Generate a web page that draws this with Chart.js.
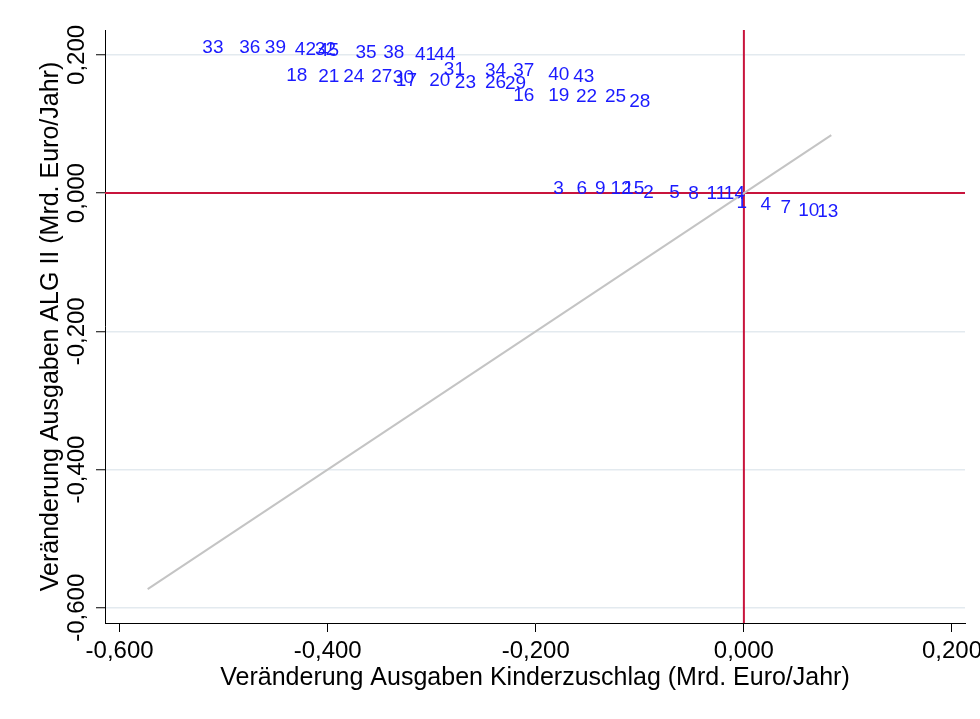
<!DOCTYPE html>
<html>
<head>
<meta charset="utf-8">
<script src="https://cdn.jsdelivr.net/npm/chart.js@4/dist/chart.umd.min.js"></script>
<style>
  html, body { margin: 0; padding: 0; background: #ffffff; }
  canvas { display: block; }
</style>
</head>
<body>
<canvas id="chart" width="980" height="719"></canvas>
<script>
// Case numbers and the change in spending per case (Mrd. Euro/Jahr)
const ids = [1, 2, 3, 4, 5, 6, 7, 8, 9, 10, 11, 12, 13, 14, 15,
             16, 17, 18, 19, 20, 21, 22, 23, 24, 25, 26, 27, 28, 29, 30,
             31, 32, 33, 34, 35, 36, 37, 38, 39, 40, 41, 42, 43, 44, 45];

// change in Kinderzuschlag spending (x)
const kinderzuschlag = [
  -0.0109, -0.1006, -0.1871, 0.0122, -0.0756, -0.1646, 0.0314, -0.0574, -0.1470, 0.0483,
  -0.0397, -0.1320, 0.0666, -0.0231, -0.1198,
  -0.2256, -0.3383, -0.4437, -0.1919, -0.3063, -0.4130, -0.1653, -0.2816, -0.3889, -0.1374,
  -0.2527, -0.3620, -0.1141, -0.2335, -0.3412,
  -0.2922, -0.4161, -0.5243, -0.2527, -0.3772, -0.4889, -0.2256, -0.3505, -0.4642, -0.1919,
  -0.3200, -0.4354, -0.1679, -0.3013, -0.4133
];

// change in ALG II spending (y)
const algII = [
  -0.0133, 0.0004, 0.0065, -0.0169, 0.0004, 0.0065, -0.0213, -0.0010, 0.0065, -0.0260,
  -0.0007, 0.0065, -0.0272, -0.0014, 0.0065,
  0.1411, 0.1621, 0.1693, 0.1411, 0.1628, 0.1689, 0.1389, 0.1599, 0.1686, 0.1389,
  0.1599, 0.1686, 0.1320, 0.1584, 0.1671,
  0.1787, 0.2076, 0.2101, 0.1773, 0.2026, 0.2101, 0.1765, 0.2026, 0.2101, 0.1718,
  0.1997, 0.2076, 0.1689, 0.2004, 0.2055
];

const xTicks = [-0.6, -0.4, -0.2, 0, 0.2];
const yTicks = [-0.6, -0.4, -0.2, 0, 0.2];
const xRange = [-0.614, 0.2125];
const yRange = [-0.622, 0.236];
// 45-degree reference line (equal change on both axes)
const diagonal = [-0.573, 0.084];

const FONT = '"Liberation Sans", Arial, Helvetica, sans-serif';
const fmt = v => (Math.abs(v) < 1e-9 ? 0 : v).toFixed(3).replace('.', ',');

Chart.defaults.font.family = FONT;
Chart.defaults.color = '#000000';

// Case numbers are written to the right of each (invisible) point
const pointLabels = {
  id: 'pointLabels',
  afterDatasetsDraw(chart) {
    const meta = chart.getDatasetMeta(0);
    const ctx = chart.ctx;
    ctx.save();
    ctx.font = '19px ' + FONT;
    ctx.fillStyle = '#1a1aff';
    ctx.textAlign = 'left';
    ctx.textBaseline = 'middle';
    meta.data.forEach((el, i) => {
      ctx.fillText(String(ids[i]), el.x + 4, el.y);
    });
    ctx.restore();
  }
};

const points = ids.map((id, i) => ({ x: kinderzuschlag[i], y: algII[i] }));
const refRed = '#c8143c';

new Chart(document.getElementById('chart'), {
  type: 'scatter',
  data: {
    datasets: [
      {
        data: points,
        pointRadius: 0,
        pointHoverRadius: 0,
        showLine: false
      },
      {
        data: [{ x: diagonal[0], y: diagonal[0] }, { x: diagonal[1], y: diagonal[1] }],
        showLine: true,
        borderColor: '#c4c4c4',
        borderWidth: 2,
        pointRadius: 0
      },
      {
        data: [{ x: xRange[0], y: 0 }, { x: xRange[1], y: 0 }],
        showLine: true,
        borderColor: refRed,
        borderWidth: 2,
        pointRadius: 0
      },
      {
        data: [{ x: 0, y: yRange[0] }, { x: 0, y: yRange[1] }],
        showLine: true,
        borderColor: refRed,
        borderWidth: 2,
        pointRadius: 0
      }
    ]
  },
  options: {
    responsive: false,
    animation: false,
    devicePixelRatio: 1,
    events: [],
    layout: { padding: { top: 30, right: 15, bottom: 0, left: 0 } },
    plugins: { legend: { display: false }, tooltip: { enabled: false } },
    scales: {
      x: {
        type: 'linear',
        min: xRange[0],
        max: xRange[1],
        afterBuildTicks: s => { s.ticks = xTicks.map(v => ({ value: v })); },
        afterFit: s => { s.height = 96; s.paddingLeft = 0; s.paddingRight = 0; },
        grid: { drawOnChartArea: false, tickLength: 9, tickColor: '#000000', tickWidth: 1 },
        border: { color: '#000000', width: 1 },
        ticks: {
          autoSkip: false, minRotation: 0, maxRotation: 0, padding: 5,
          color: '#000000', font: { size: 24 },
          callback: v => fmt(v)
        },
        title: {
          display: true,
          text: 'Veränderung Ausgaben Kinderzuschlag (Mrd. Euro/Jahr)',
          color: '#000000',
          font: { size: 25 },
          padding: { top: 0, bottom: 26 }
        }
      },
      y: {
        type: 'linear',
        min: yRange[0],
        max: yRange[1],
        afterBuildTicks: s => { s.ticks = yTicks.map(v => ({ value: v })); },
        afterFit: s => { s.width = 105; s.paddingTop = 0; s.paddingBottom = 0; },
        grid: { color: '#e3eaef', lineWidth: 1.5, tickLength: 9, tickColor: '#000000', tickWidth: 1 },
        border: { color: '#000000', width: 1 },
        ticks: {
          autoSkip: false, minRotation: 90, maxRotation: 90,
          crossAlign: 'center', padding: -15.5,
          color: '#000000', font: { size: 24 },
          callback: v => fmt(v)
        },
        title: {
          display: true,
          text: 'Veränderung Ausgaben ALG II (Mrd. Euro/Jahr)',
          color: '#000000',
          font: { size: 25 },
          padding: { top: 36, bottom: 0 }
        }
      }
    }
  },
  plugins: [pointLabels]
});
</script>
</body>
</html>
